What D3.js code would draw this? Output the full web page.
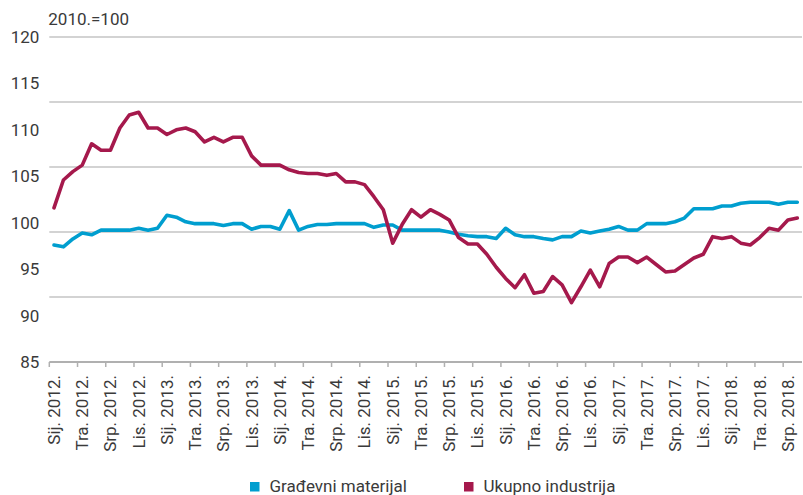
<!DOCTYPE html>
<html>
<head>
<meta charset="utf-8">
<script src="https://cdn.jsdelivr.net/npm/d3@7"></script>
<style>
  html, body { margin: 0; padding: 0; background: #fff; }
  svg { display: block; }
  text { font-family: Roboto, "Open Sans", sans-serif; fill: #3a3a3a; }
</style>
</head>
<body>
<svg id="chart" width="803" height="495"></svg>
<script>
// ---- data ----
const monthNames = ["Sij", "Velj", "Ožu", "Tra", "Svi", "Lip", "Srp", "Kol", "Ruj", "Lis", "Stu", "Pro"];
const startYear = 2012;
const nMonths = 80; // Sij. 2012. – Kol. 2018.
const categories = d3.range(nMonths).map(i => `${monthNames[i % 12]}. ${startYear + Math.floor(i / 12)}.`);

const gradevniMaterijal = [
  97.6, 97.4, 98.25, 98.9, 98.7, 99.2, 99.2, 99.2, 99.2, 99.4, 99.2, 99.4,
  100.8, 100.6, 100.1, 99.9, 99.9, 99.9, 99.7, 99.9, 99.9, 99.3, 99.6, 99.6,
  99.3, 101.3, 99.2, 99.6, 99.8, 99.8, 99.9, 99.9, 99.9, 99.9, 99.5, 99.75,
  99.75, 99.2, 99.2, 99.2, 99.2, 99.2, 99.0, 98.75, 98.6, 98.5, 98.5, 98.3,
  99.4, 98.7, 98.5, 98.5, 98.3, 98.15, 98.5, 98.5, 99.1, 98.9, 99.1, 99.3,
  99.6, 99.2, 99.2, 99.9, 99.9, 99.9, 100.1, 100.5, 101.5, 101.5, 101.5, 101.8,
  101.8, 102.1, 102.2, 102.2, 102.2, 102.0, 102.2, 102.2
];
const ukupnoIndustrija = [
  101.6, 104.6, 105.5, 106.2, 108.5, 107.8, 107.8, 110.2, 111.6, 111.9, 110.2, 110.2,
  109.5, 110.0, 110.2, 109.8, 108.7, 109.2, 108.7, 109.2, 109.2, 107.2, 106.2, 106.2,
  106.2, 105.7, 105.4, 105.3, 105.3, 105.1, 105.3, 104.4, 104.4, 104.1, 102.8, 101.4,
  97.8, 99.8, 101.4, 100.6, 101.4, 100.9, 100.3, 98.4, 97.7, 97.7, 96.6, 95.2,
  94.0, 93.0, 94.4, 92.4, 92.6, 94.2, 93.3, 91.4, 93.1, 94.9, 93.1, 95.6,
  96.3, 96.3, 95.7, 96.3, 95.5, 94.7, 94.8, 95.5, 96.2, 96.6, 98.5, 98.3,
  98.5, 97.8, 97.6, 98.4, 99.4, 99.2, 100.3, 100.5
];
const seriesNames = ["Građevni materijal", "Ukupno industrija"];
const seriesColors = ["#009ecf", "#a5194c"];
const yTickLabels = [120, 115, 110, 105, 100, 95, 90, 85];
const gridValues = [120, 113, 106, 99, 92];
const unitLabel = "2010.=100";

// ---- layout ----
const svg = d3.select("#chart");
const plotL = 49.3, plotR = 802, plotT = 37, plotB = 362;

const x = d3.scaleBand().domain(d3.range(nMonths)).range([plotL, plotR]).padding(0);
const y = d3.scaleLinear().domain([85, 120]).range([plotB, plotT]);
const cx = i => x(i) + x.bandwidth() / 2;

// gridlines
svg.append("g").selectAll("line").data(gridValues).join("line")
  .attr("x1", plotL).attr("x2", plotR)
  .attr("y1", d => y(d)).attr("y2", d => y(d))
  .attr("stroke", "#c4c4c4").attr("stroke-width", 1.5);

// y labels
const yAxis = svg.append("g").attr("transform", `translate(${plotL - 10},0)`)
  .call(d3.axisLeft(y).tickValues(yTickLabels).tickSize(0).tickPadding(0).tickFormat(d3.format("d")));
yAxis.select(".domain").remove();
yAxis.selectAll("text").style("font-size", "17px").style("font-family", "Roboto, sans-serif").attr("fill", "#3a3a3a");

// unit label
svg.append("text").attr("x", plotL - 1).attr("y", 25).style("font-size", "17px").text(unitLabel);

// x axis line
svg.append("line").attr("x1", plotL).attr("x2", plotR).attr("y1", plotB).attr("y2", plotB)
  .attr("stroke", "#b0b0b0").attr("stroke-width", 2);

const tickIdx = d3.range(0, nMonths, 3);
svg.append("g").selectAll("line").data(tickIdx).join("line")
  .attr("x1", d => x(d)).attr("x2", d => x(d))
  .attr("y1", plotB).attr("y2", plotB + 5)
  .attr("stroke", "#b0b0b0").attr("stroke-width", 1.5);

svg.append("g").selectAll("text").data(tickIdx).join("text")
  .attr("transform", d => `translate(${cx(d) + 6},${plotB + 13}) rotate(-90)`)
  .attr("text-anchor", "end")
  .style("font-size", "17px")
  .text(d => categories[d]);

// lines
const line = d3.line().x((d, i) => cx(i)).y(d => y(d)).curve(d3.curveLinear);
[gradevniMaterijal, ukupnoIndustrija].forEach((s, k) => {
  svg.append("path").datum(s)
    .attr("d", line)
    .attr("fill", "none")
    .attr("stroke", seriesColors[k])
    .attr("stroke-width", 3.6)
    .attr("stroke-linejoin", "round")
    .attr("stroke-linecap", "round");
});

// legend
const legendX = [250, 464];
const lg = svg.append("g").selectAll("g").data(seriesNames).join("g")
  .attr("transform", (d, i) => `translate(${legendX[i]},482)`);
lg.append("rect").attr("width", 9.5).attr("height", 9.5).attr("fill", (d, i) => seriesColors[i]);
lg.append("text").attr("x", 19.5).attr("y", 10).style("font-size", "17px").text(d => d);
</script>
</body>
</html>
